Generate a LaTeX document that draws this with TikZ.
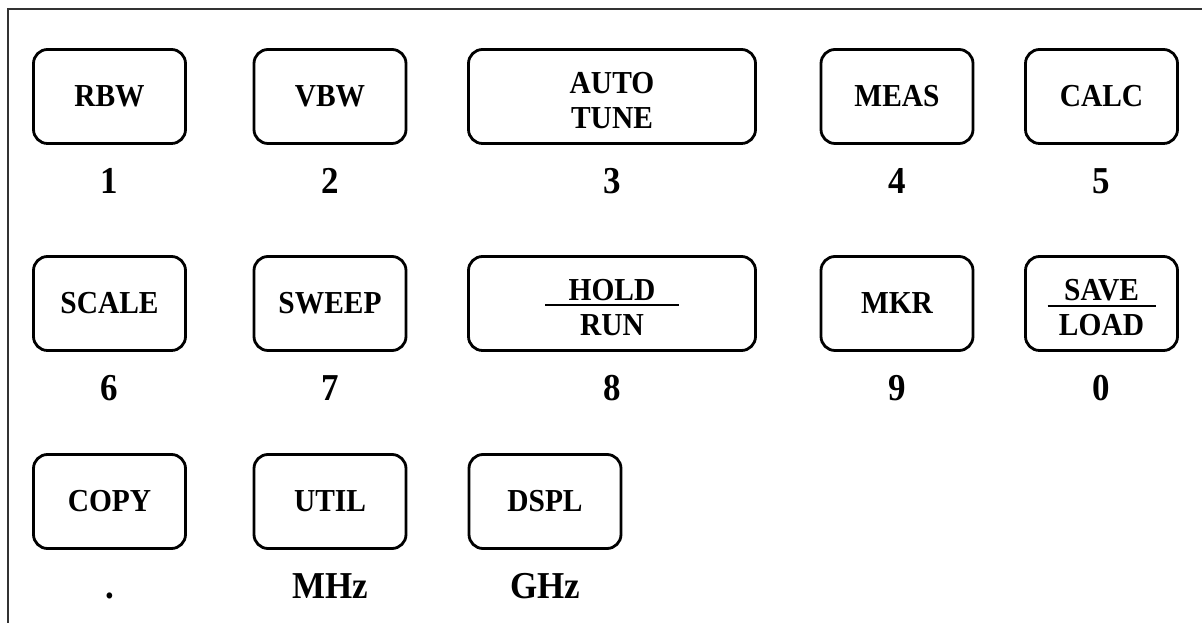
\documentclass[tikz,border=0pt]{standalone}
\usepackage{fontspec}
\setmainfont{Liberation Serif}
\newfontfamily\keyfont[FakeStretch=0.92]{Liberation Serif}
\usetikzlibrary{positioning}

\begin{document}
\begin{tikzpicture}[x=1pt,y=1pt,
    key/.style={draw,line width=2.8pt,rounded corners=14pt,minimum width=152pt,minimum height=94pt,inner sep=0pt,
      align=center,font=\keyfont\fontsize{32}{35}\selectfont\bfseries},
    widekey/.style={key,minimum width=287pt},
    twoline/.style={text height=64pt},
    numlab/.style={inner sep=0pt,text height=26pt,text depth=0pt,font=\keyfont\fontsize{38}{42}\selectfont\bfseries,below=22pt of #1},
    fracbar/.style={line width=1.5pt}]
  \useasboundingbox (0,0) rectangle (1202,623);
  \draw[line width=1.5pt,black!80] (8,0) -- (8,614) -- (1202,614);

  \node[key] (rbw) at (109.5,526.5) {RBW};
  \node[key] (vbw) at (330,526.5) {VBW};
  \node[widekey,twoline] (autotune) at (612,526.5) {AUTO\\TUNE};
  \node[key] (meas) at (897,526.5) {MEAS};
  \node[key] (calc) at (1101.5,526.5) {CALC};

  \node[key] (scale) at (109.5,319.5) {SCALE};
  \node[key] (sweep) at (330,319.5) {SWEEP};
  \node[widekey,twoline] (holdrun) at (612,319.5) {HOLD\\RUN};
  \node[key] (mkr) at (897,319.5) {MKR};
  \node[key,twoline] (saveload) at (1101.5,319.5) {SAVE\\LOAD};

  \node[key] (copy) at (109.5,121.5) {COPY};
  \node[key] (util) at (330,121.5) {UTIL};
  \node[key] (dspl) at (545,121.5) {DSPL};

  \draw[fracbar] ([xshift=-67pt,yshift=-1.5pt]holdrun.center) -- ([xshift=67pt,yshift=-1.5pt]holdrun.center);
  \draw[fracbar] ([xshift=-54pt,yshift=-2.5pt]saveload.center) -- ([xshift=54pt,yshift=-2.5pt]saveload.center);

  \node[numlab=rbw] (n1) {1};
  \node[numlab=vbw] (n2) {2};
  \node[numlab=autotune] (n3) {3};
  \node[numlab=meas] (n4) {4};
  \node[numlab=calc] (n5) {5};
  \node[numlab=scale] (n6) {6};
  \node[numlab=sweep] (n7) {7};
  \node[numlab=holdrun] (n8) {8};
  \node[numlab=mkr] (n9) {9};
  \node[numlab=saveload] (n0) {0};
  \node[numlab=copy] (ndot) {.};
  \node[numlab=util] (nmhz) {MHz};
  \node[numlab=dspl] (nghz) {GHz};
\end{tikzpicture}
\end{document}
